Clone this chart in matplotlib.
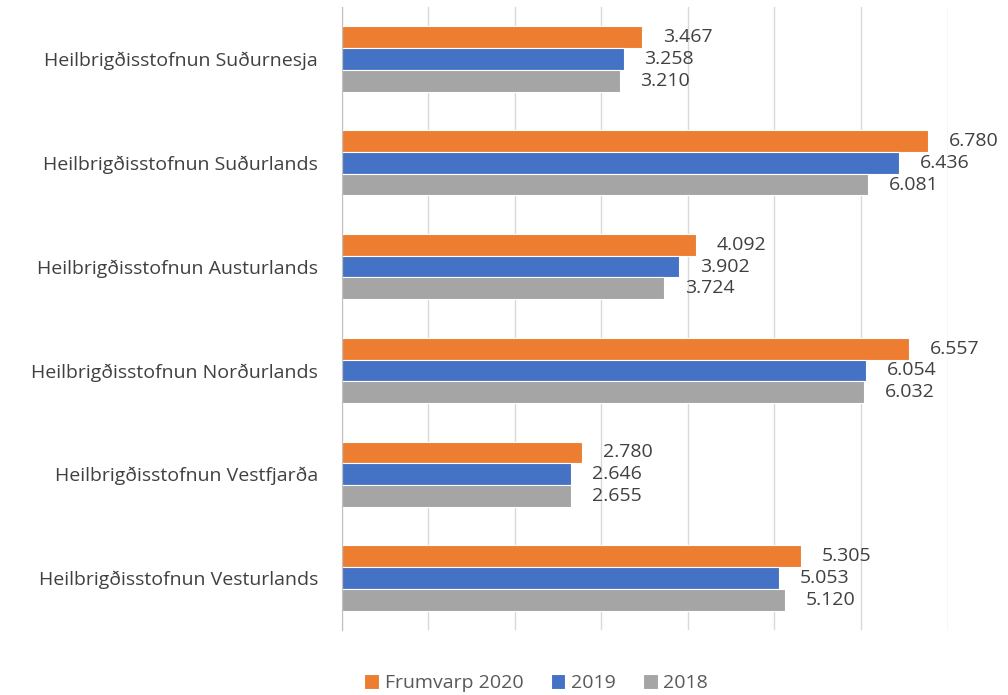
import numpy as np
import matplotlib.pyplot as plt

# data
categories = ["Heilbrigðisstofnun Suðurnesja", "Heilbrigðisstofnun Suðurlands",
              "Heilbrigðisstofnun Austurlands", "Heilbrigðisstofnun Norðurlands",
              "Heilbrigðisstofnun Vestfjarða", "Heilbrigðisstofnun Vesturlands"]
frumvarp_2020 = [3.467, 6.780, 4.092, 6.557, 2.780, 5.305]
y2019 = [3.258, 6.436, 3.902, 6.054, 2.646, 5.053]
y2018 = [3.210, 6.081, 3.724, 6.032, 2.655, 5.120]

series = [("Frumvarp 2020", frumvarp_2020, "#ED7D31"),
          ("2019", y2019, "#4472C4"),
          ("2018", y2018, "#A5A5A5")]

plt.rcParams['font.family'] = ['Open Sans', 'DejaVu Sans']

fig = plt.figure(figsize=(10.08, 6.95), dpi=100)
ax = fig.add_axes([0.339, 0.0935, 0.601, 0.8965])

pos = np.arange(len(categories))
h = 0.21
for i, (name, vals, col) in enumerate(series):
    ys = pos + (i - 1) * h
    ax.barh(ys, vals, height=h, color=col, edgecolor="white", linewidth=0.8,
            label=name, zorder=2)
    for y, v in zip(ys, vals):
        ax.annotate(f"{v:.3f}", (v, y), xytext=(15, 0), textcoords="offset points",
                    ha="left", va="center", fontsize=14, color="#404040")

ax.set_xlim(0, 7)
ax.set_ylim(len(categories) - 0.5, -0.5)
ax.set_xticks(range(0, 8))
ax.set_xticklabels([])
ax.tick_params(axis="x", length=0)
ax.grid(axis="x", color="#D9D9D9", linewidth=1, zorder=0)
ax.set_yticks(pos)
ax.set_yticklabels(categories, fontsize=14, color="#404040")
ax.tick_params(axis="y", length=0, pad=17)
for s in ["top", "right", "bottom"]:
    ax.spines[s].set_visible(False)
ax.spines["left"].set_color("#BFBFBF")
ax.spines["left"].set_zorder(3)

leg = fig.legend(loc="center", bbox_to_anchor=(0.532, 0.017), ncol=3, frameon=False,
                 fontsize=14, handlelength=0.75, handleheight=0.75, handletextpad=0.3,
                 columnspacing=1.4)
for t in leg.get_texts():
    t.set_color("#595959")

fig.savefig("out.png", dpi=100)
